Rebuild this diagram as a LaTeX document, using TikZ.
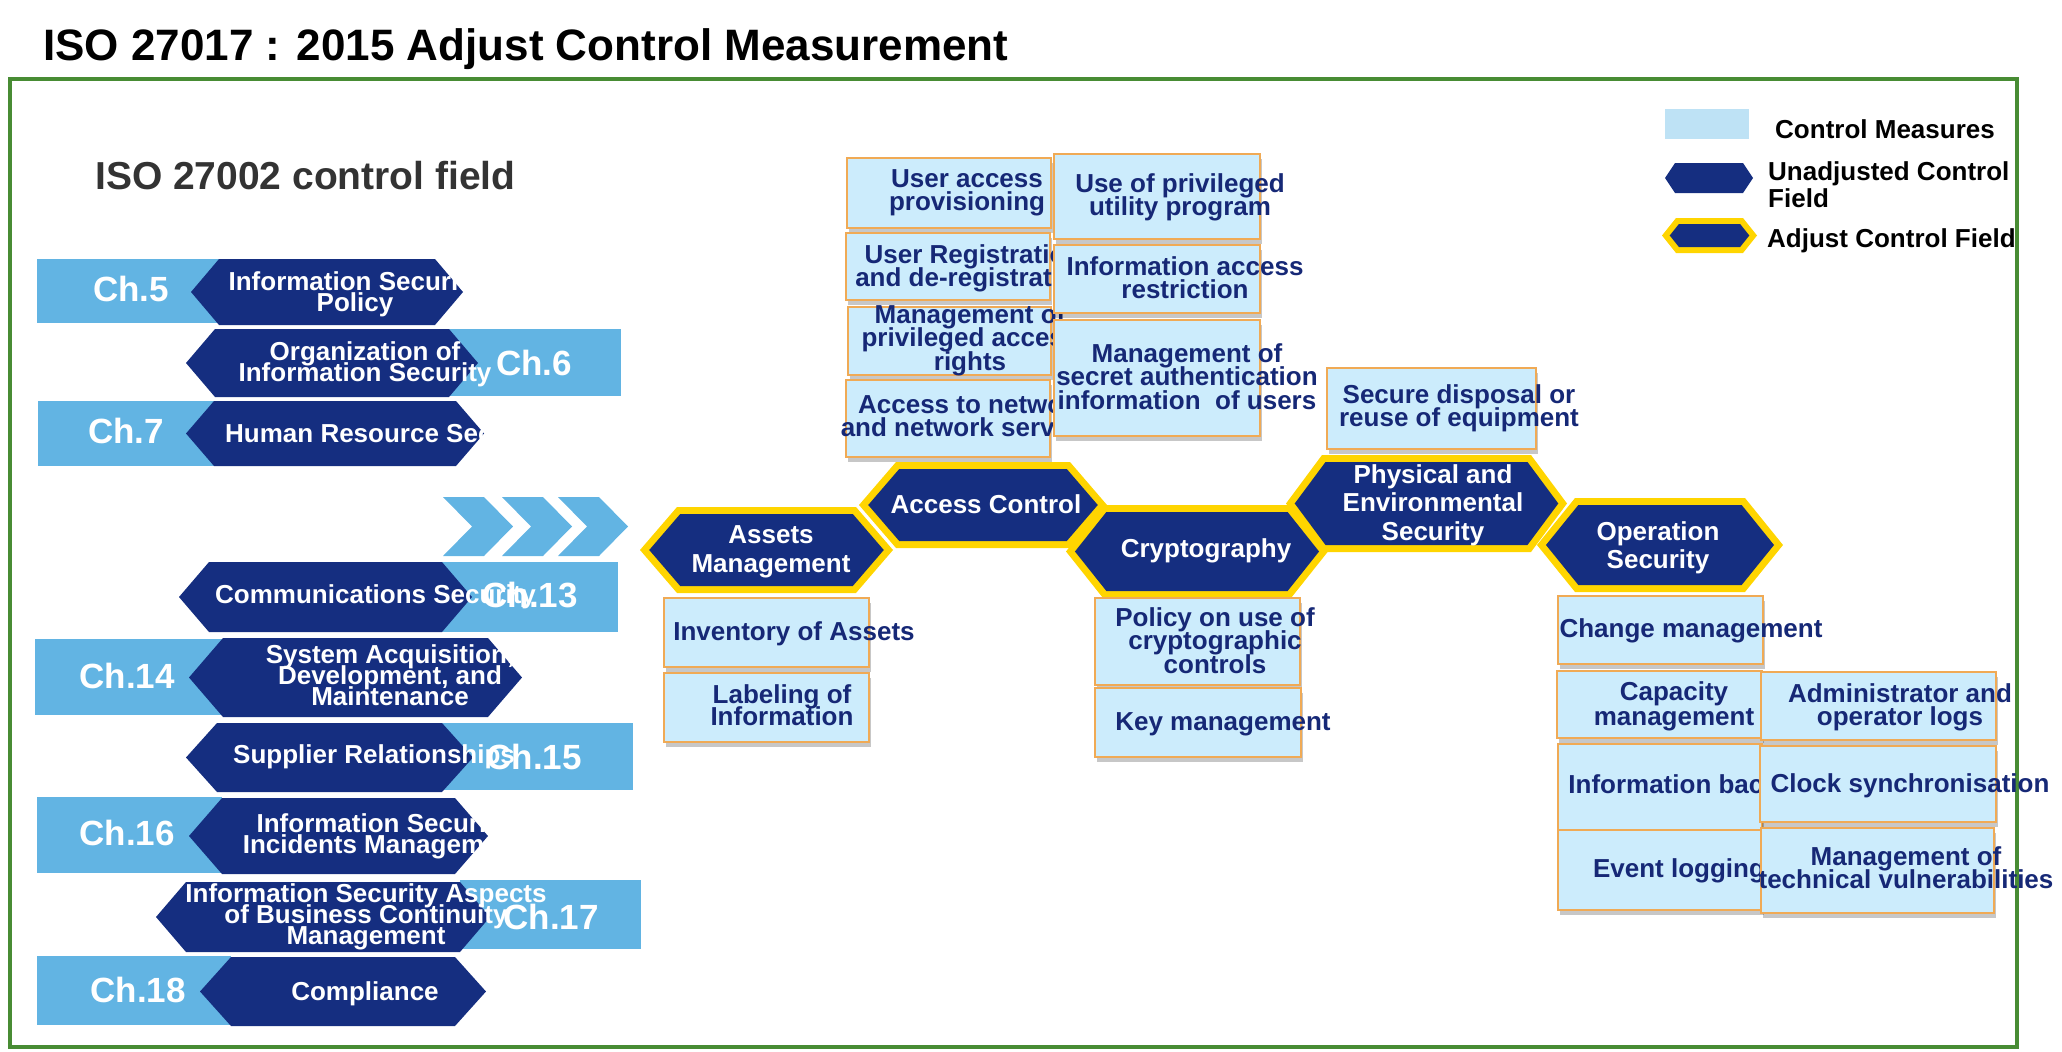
\documentclass[tikz,border=0pt]{standalone}
\usepackage{fontspec}
\setmainfont{Liberation Sans}
\usetikzlibrary{shadows}
\definecolor{navy}{RGB}{21,46,128}
\definecolor{lblue}{RGB}{98,180,227}
\definecolor{boxfill}{RGB}{204,236,252}
\definecolor{boxline}{RGB}{240,170,85}
\definecolor{boxtext}{RGB}{22,40,118}
\definecolor{ylw}{RGB}{255,213,0}
\definecolor{framegreen}{RGB}{72,140,52}
\definecolor{legblue}{RGB}{190,226,245}
\definecolor{titlegray}{RGB}{51,51,51}
% hexagon: style, left tip x, right tip x, top y, bottom y, slant
\newcommand\myhex[6]{\path[#1] (#2,{(#4+#5)/2}) -- ({#2+#6},#4) -- ({#3-#6},#4) -- (#3,{(#4+#5)/2}) -- ({#3-#6},#5) -- ({#2+#6},#5) -- cycle;}
% adjusted hexagon: L, R, T, B, slant, border
\newcommand\adjhex[6]{%
  \pgfmathsetmacro\hexHH{(#4-#3)/2}%
  \pgfmathsetmacro\hexMM{(#4+#3)/2}%
  \pgfmathsetmacro\hexKK{sqrt((#5)^2+\hexHH^2)/\hexHH*#6}%
  \pgfmathsetmacro\hexSS{#5*(\hexHH-#6)/\hexHH}%
  \myhex{fill=ylw}{#1}{#2}{#3}{#4}{#5}
  \path[fill=navy] ({#1+\hexKK},\hexMM) -- ({#1+\hexKK+\hexSS},{#3+#6}) -- ({#2-\hexKK-\hexSS},{#3+#6}) -- ({#2-\hexKK},\hexMM) -- ({#2-\hexKK-\hexSS},{#4-#6}) -- ({#1+\hexKK+\hexSS},{#4-#6}) -- cycle;}
\tikzset{
  chap/.style={text=white, font={\fontsize{35}{40}\selectfont\bfseries}, inner sep=0, anchor=base},
  hext/.style={text=white, font={\fontsize{26}{21}\selectfont\bfseries\lineskiplimit=-100pt}, align=center, inner sep=0},
  adjt/.style={text=white, font={\fontsize{26}{29}\selectfont\bfseries\lineskiplimit=-100pt}, align=center, inner sep=0},
  boxt/.style={text=boxtext, font={\fontsize{26}{23.5}\selectfont\bfseries\lineskiplimit=-100pt}, align=center, inner sep=0},
  cbox/.style={fill=boxfill, draw=boxline, line width=2.5pt, drop shadow={shadow xshift=2pt, shadow yshift=-5pt, opacity=0.22, fill=black}},
  legt/.style={text=black, font={\fontsize{26}{27}\selectfont\bfseries\lineskiplimit=-100pt}, align=left, inner sep=0},
  chev/.style={fill=lblue}
}
\begin{document}
\begin{tikzpicture}[x=1pt,y=-1pt]
\useasboundingbox (0,0) rectangle (2062,1052);
% title and frame
\node[anchor=base west, inner sep=0, font={\fontsize{44}{48}\selectfont\bfseries}] (title) at (43,60) {ISO 27017 : 2015 Adjust Control Measurement};
\draw[framegreen, line width=4pt] (10,79) rectangle (2017,1047);
\node[anchor=base west, inner sep=0, text=titlegray, font={\fontsize{39}{44}\selectfont\bfseries}] (fieldlabel) at (95,189) {ISO 27002 control field};

% ---------- left column ----------
\fill[lblue] (37,259) rectangle (219,323);
\myhex{fill=navy}{191}{463}{259}{325}{28}
\node[chap] (c5) at (131,301) {Ch.5};
\node[hext, anchor=north] (f5) at (355,271) {Information Security\\Policy};

\fill[lblue] (449,329) rectangle (621,396);
\myhex{fill=navy}{186}{478}{329}{397}{29}
\node[chap] (c6) at (534,375.5) {Ch.6};
\node[hext, anchor=north] (f6) at (365,341) {Organization of\\Information Security};

\fill[lblue] (38,401) rectangle (214,466);
\myhex{fill=navy}{186}{484}{401}{466}{28}
\node[chap] (c7) at (126,443.5) {Ch.7};
\node[hext, anchor=base west] (f7) at (225,442) {Human Resource Security};

% chevrons
\foreach \L in {443,502,558}{
  \path[chev] (\L,497) -- ({\L+41},497) -- ({\L+70},526.5) -- ({\L+41},556) -- (\L,556) -- ({\L+29},526.5) -- cycle;
}

\fill[lblue] (442,562) rectangle (618,632);
\myhex{fill=navy}{179}{472}{562}{632}{30}
\node[chap] (c13) at (530,607.5) {Ch.13};
\node[hext, anchor=base west] (f13) at (215,603) {Communications Security};

\fill[lblue] (35,639) rectangle (223,715);
\myhex{fill=navy}{189}{522}{638}{717}{34}
\node[chap] (c14) at (127,688) {Ch.14};
\node[hext, anchor=north] (f14) at (390,644) {System Acquisition,\\Development, and\\Maintenance};

\fill[lblue] (442,723) rectangle (633,790);
\myhex{fill=navy}{186}{473}{723}{792}{31}
\node[chap] (c15) at (534,769.5) {Ch.15};
\node[hext, anchor=base west] (f15) at (233,763) {Supplier Relationships};

\fill[lblue] (37,797) rectangle (222,873);
\myhex{fill=navy}{189}{488}{798}{874}{33}
\node[chap] (c16) at (127,845.5) {Ch.16};
\node[hext, anchor=north] (f16) at (383,813) {Information Security\\Incidents Management};

\fill[lblue] (460,880) rectangle (641,949);
\myhex{fill=navy}{156}{490}{882}{952}{30}
\node[chap] (c17) at (551,929.5) {Ch.17};
\node[hext, anchor=north] (f17) at (366,883) {Information Security Aspects\\of Business Continuity\\Management};

\fill[lblue] (37,956) rectangle (231,1025);
\myhex{fill=navy}{200}{486}{957}{1026}{31}
\node[chap] (c18) at (138,1002.5) {Ch.18};
\node[hext, anchor=base] (f18) at (365,1000) {Compliance};

% ---------- adjusted control fields ----------
\adjhex{640}{893}{507}{593}{37}{7}
\adjhex{859}{1107}{462}{548}{37}{7}
\adjhex{1066}{1328}{505}{598}{37}{7}
\adjhex{1286}{1567}{455}{552}{36}{7}
\adjhex{1537}{1783}{498}{592}{38}{7}
\node[adjt, anchor=north] (am) at (771,525) {Assets\\Management};
\node[adjt, anchor=base] (ac) at (986,513) {Access Control};
\node[adjt, anchor=base] (cr) at (1206,557) {Cryptography};
\node[adjt, anchor=north, font={\fontsize{26}{28.5}\selectfont\bfseries\lineskiplimit=-100pt}] (pe) at (1433,464) {Physical and\\Environmental\\Security};
\node[adjt, anchor=north, font={\fontsize{26}{28}\selectfont\bfseries\lineskiplimit=-100pt}] (os) at (1658,521) {Operation\\Security};

% ---------- control measures: access control ----------
\path[cbox] (847,158) rectangle (1051,228);
\node[boxt, anchor=north] (b1) at (967,169) {User access\\provisioning};
\path[cbox] (846,233) rectangle (1050,300);
\node[boxt, anchor=north] (b2) at (973,244) {User Registration\\and de-registration};
\path[cbox] (848,307) rectangle (1051,375);
\node[boxt, anchor=north] (b3) at (970,304) {Management of\\privileged access\\rights};
\path[cbox] (846,380) rectangle (1050,457);
\node[boxt, anchor=north] (b4) at (973,394) {Access to network\\and network services};
\path[cbox] (1054,154) rectangle (1260,239);
\node[boxt, anchor=north] (b5) at (1180,173) {Use of privileged\\utility program};
\path[cbox] (1054,245) rectangle (1260,313);
\node[boxt, anchor=north] (b6) at (1185,256) {Information access\\restriction};
\path[cbox] (1054,320) rectangle (1260,436);
\node[boxt, anchor=north] (b7) at (1187,343) {Management of\\secret authentication\\information~~of users};
% physical
\path[cbox] (1327,368) rectangle (1536,449);
\node[boxt, anchor=north] (b8) at (1459,384) {Secure disposal or\\reuse of equipment};
% assets
\path[cbox] (664,598) rectangle (869,667);
\node[boxt, anchor=base] (b9) at (794,640) {Inventory of Assets};
\path[cbox] (664,673) rectangle (869,742);
\node[boxt, anchor=north, font={\fontsize{26}{22}\selectfont\bfseries\lineskiplimit=-100pt}] (b10) at (782,684) {Labeling of\\Information};
% cryptography
\path[cbox] (1095,598) rectangle (1300,685);
\node[boxt, anchor=north] (b11) at (1215,607) {Policy on use of\\cryptographic\\controls};
\path[cbox] (1095,688) rectangle (1301,757);
\node[boxt, anchor=base] (b12) at (1223,730) {Key management};
% operation
\path[cbox] (1558,596) rectangle (1763,664);
\node[boxt, anchor=base] (b13) at (1691,637) {Change management};
\path[cbox] (1557,671) rectangle (1762,738);
\node[boxt, anchor=north, font={\fontsize{26}{25}\selectfont\bfseries\lineskiplimit=-100pt}] (b14) at (1674,681) {Capacity\\management};
\path[cbox] (1558,744) rectangle (1762,830);
\node[boxt, anchor=base] (b15) at (1689,793) {Information backup};
\path[cbox] (1558,830) rectangle (1762,910);
\node[boxt, anchor=base] (b16) at (1679,877) {Event logging};
\path[cbox] (1761,672) rectangle (1996,740);
\node[boxt, anchor=north] (b17) at (1900,683) {Administrator and\\operator logs};
\path[cbox] (1760,746) rectangle (1996,822);
\node[boxt, anchor=base] (b18) at (1910,792) {Clock synchronisation};
\path[cbox] (1761,828) rectangle (1994,913);
\node[boxt, anchor=north] (b19) at (1906,846) {Management of\\technical vulnerabilities};

% ---------- legend ----------
\fill[legblue] (1665,109) rectangle (1749,139);
\node[legt, anchor=base west] (l1) at (1775,138) {Control Measures};
\myhex{fill=navy}{1665}{1753}{163}{193}{10}
\node[legt, anchor=north west] (l2) at (1768,161) {Unadjusted Control\\Field};
\adjhex{1662}{1757}{218}{253}{14}{6}
\node[legt, anchor=base west] (l3) at (1767,247) {Adjust Control Field};
\end{tikzpicture}
\end{document}
